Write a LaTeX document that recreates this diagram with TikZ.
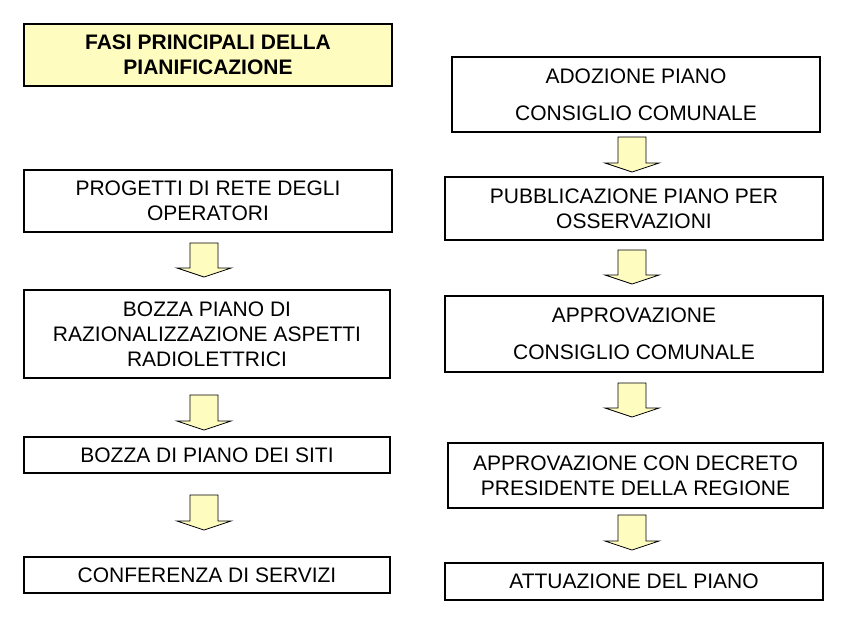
\documentclass[tikz,border=0pt]{standalone}
\usepackage{fontspec}
\setmainfont{Liberation Sans}
\begin{document}
\begin{tikzpicture}[x=1pt,y=-1pt,
  box/.style={draw=black,line width=2pt,fill=white,align=center,inner sep=0pt,font=\fontsize{21}{25}\selectfont},
  darr/.style={draw=black,line width=0.8pt,fill=yellow!25}]
\useasboundingbox (0,0) rectangle (850,634);
\newcommand\bx[6]{\node[box,minimum width=#3-#2,minimum height=#5-#4] (#1) at ({(#2+#3)/2},{(#4+#5)/2}) {#6};}
\newcommand\ar[3]{\draw[darr] (#1-14,#2) -- (#1+14,#2) -- (#1+14,#3-9) -- (#1+27,#3-9) -- (#1,#3) -- (#1-27,#3-9) -- (#1-14,#3-9) -- cycle;}
\node[box,fill=yellow!25,minimum width=368,minimum height=62,font=\bfseries\fontsize{21}{25}\selectfont] (t) at (208,55) {FASI PRINCIPALI DELLA\\PIANIFICAZIONE};
\bx{l1}{24}{392}{170}{232}{PROGETTI DI RETE DEGLI\\OPERATORI}
\bx{l2}{24}{390}{290}{378}{BOZZA PIANO DI\\RAZIONALIZZAZIONE ASPETTI\\RADIOLETTRICI}
\bx{l3}{24}{390}{437}{473}{BOZZA DI PIANO DEI SITI}
\bx{l4}{24}{390}{557}{593}{CONFERENZA DI SERVIZI}
\ar{204}{243}{277}
\ar{204}{395}{430}
\ar{204}{495}{530}
\bx{r1}{452}{820}{57}{132}{ADOZIONE PIANO\\[12pt]CONSIGLIO COMUNALE}
\bx{r2}{445}{823}{177}{240}{PUBBLICAZIONE PIANO PER\\OSSERVAZIONI}
\bx{r3}{445}{823}{296}{372}{APPROVAZIONE\\[12pt]CONSIGLIO COMUNALE}
\bx{r4}{448}{823}{443}{508}{APPROVAZIONE CON DECRETO\\PRESIDENTE DELLA REGIONE}
\bx{r5}{445}{823}{563}{600}{ATTUAZIONE DEL PIANO}
\ar{632}{137}{172}
\ar{632}{250}{284}
\ar{632}{383}{417}
\ar{632}{515}{550}
\end{tikzpicture}
\end{document}
